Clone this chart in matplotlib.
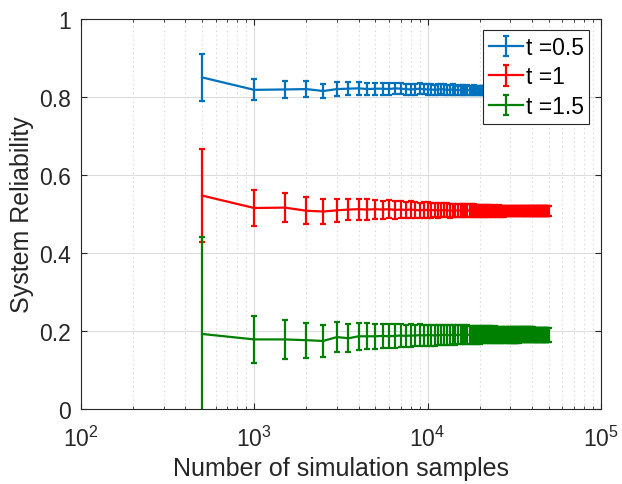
import numpy as np
import matplotlib
matplotlib.use("Agg")
import matplotlib.pyplot as plt
from matplotlib.ticker import LogLocator
from matplotlib.legend_handler import HandlerErrorbar
from matplotlib.container import ErrorbarContainer

plt.rcParams['font.family'] = ['Liberation Sans', 'DejaVu Sans']
plt.rcParams['mathtext.fontset'] = 'custom'
plt.rcParams['mathtext.rm'] = 'Liberation Sans'

# number of simulation samples (500, 1000, ..., 50000)
samples = np.arange(500, 50001, 500)

labels = ["t =0.5", "t =1", "t =1.5"]

rel_t05 = [
    0.850, 0.818, 0.819, 0.820, 0.815, 0.820, 0.821, 0.822, 0.820, 0.821,
    0.821, 0.820, 0.822, 0.821, 0.820, 0.819, 0.820, 0.821, 0.820, 0.819,
    0.819, 0.818, 0.819, 0.820, 0.819, 0.818, 0.818, 0.819, 0.818, 0.817,
    0.818, 0.818, 0.817, 0.818, 0.817, 0.817, 0.818, 0.817, 0.816, 0.817,
    0.817, 0.816, 0.817, 0.817, 0.816, 0.816, 0.817, 0.816, 0.816, 0.817,
    0.816, 0.816, 0.817, 0.816, 0.816, 0.816, 0.817, 0.816, 0.816, 0.816,
    0.816, 0.817, 0.816, 0.816, 0.816, 0.816, 0.816, 0.817, 0.816, 0.816,
    0.816, 0.816, 0.816, 0.816, 0.817, 0.816, 0.816, 0.816, 0.816, 0.816,
    0.816, 0.816, 0.816, 0.816, 0.816, 0.816, 0.816, 0.816, 0.816, 0.816,
    0.816, 0.816, 0.816, 0.816, 0.816, 0.816, 0.816, 0.816, 0.816, 0.816,
]
err_t05 = [
    0.060, 0.027, 0.022, 0.020, 0.018, 0.017, 0.016, 0.016, 0.015, 0.015,
    0.015, 0.015, 0.014, 0.014, 0.014, 0.014, 0.014, 0.014, 0.013, 0.013,
    0.013, 0.013, 0.013, 0.013, 0.013, 0.013, 0.013, 0.013, 0.013, 0.012,
    0.012, 0.012, 0.012, 0.012, 0.012, 0.012, 0.012, 0.012, 0.012, 0.012,
    0.012, 0.012, 0.012, 0.012, 0.012, 0.012, 0.012, 0.012, 0.012, 0.012,
    0.012, 0.012, 0.012, 0.011, 0.011, 0.011, 0.011, 0.011, 0.011, 0.011,
    0.011, 0.011, 0.011, 0.011, 0.011, 0.011, 0.011, 0.011, 0.011, 0.011,
    0.011, 0.011, 0.011, 0.011, 0.011, 0.011, 0.011, 0.011, 0.011, 0.011,
    0.011, 0.011, 0.011, 0.011, 0.011, 0.011, 0.011, 0.011, 0.011, 0.011,
    0.011, 0.011, 0.011, 0.011, 0.011, 0.011, 0.011, 0.011, 0.011, 0.011,
]

rel_t1 = [
    0.547, 0.515, 0.516, 0.508, 0.506, 0.509, 0.511, 0.512, 0.511, 0.512,
    0.511, 0.512, 0.510, 0.511, 0.510, 0.511, 0.510, 0.509, 0.510, 0.510,
    0.509, 0.510, 0.509, 0.509, 0.510, 0.509, 0.508, 0.509, 0.509, 0.508,
    0.509, 0.508, 0.508, 0.509, 0.508, 0.508, 0.508, 0.507, 0.508, 0.508,
    0.508, 0.507, 0.508, 0.508, 0.507, 0.508, 0.507, 0.507, 0.508, 0.507,
    0.507, 0.508, 0.507, 0.507, 0.507, 0.507, 0.508, 0.507, 0.507, 0.507,
    0.507, 0.507, 0.507, 0.507, 0.507, 0.507, 0.507, 0.507, 0.507, 0.507,
    0.507, 0.507, 0.507, 0.507, 0.507, 0.507, 0.507, 0.507, 0.507, 0.507,
    0.507, 0.507, 0.507, 0.507, 0.507, 0.507, 0.507, 0.507, 0.507, 0.507,
    0.507, 0.507, 0.507, 0.507, 0.507, 0.507, 0.507, 0.507, 0.507, 0.507,
]
err_t1 = [
    0.120, 0.045, 0.037, 0.035, 0.033, 0.030, 0.028, 0.027, 0.026, 0.024,
    0.023, 0.023, 0.022, 0.022, 0.021, 0.021, 0.021, 0.020, 0.020, 0.020,
    0.019, 0.019, 0.019, 0.018, 0.018, 0.018, 0.018, 0.017, 0.017, 0.017,
    0.017, 0.017, 0.016, 0.016, 0.016, 0.016, 0.016, 0.016, 0.015, 0.015,
    0.015, 0.015, 0.015, 0.015, 0.015, 0.014, 0.014, 0.014, 0.014, 0.014,
    0.014, 0.014, 0.014, 0.014, 0.014, 0.013, 0.013, 0.013, 0.013, 0.013,
    0.013, 0.013, 0.013, 0.013, 0.013, 0.013, 0.013, 0.013, 0.013, 0.013,
    0.012, 0.012, 0.012, 0.012, 0.012, 0.012, 0.012, 0.012, 0.012, 0.012,
    0.012, 0.012, 0.012, 0.012, 0.012, 0.012, 0.012, 0.012, 0.012, 0.012,
    0.012, 0.012, 0.012, 0.012, 0.012, 0.012, 0.012, 0.012, 0.012, 0.012,
]

rel_t15 = [
    0.192, 0.178, 0.178, 0.176, 0.174, 0.184, 0.181, 0.186, 0.186, 0.186,
    0.187, 0.186, 0.187, 0.188, 0.187, 0.188, 0.188, 0.189, 0.188, 0.189,
    0.189, 0.188, 0.189, 0.189, 0.190, 0.189, 0.189, 0.190, 0.189, 0.190,
    0.190, 0.189, 0.190, 0.190, 0.190, 0.189, 0.190, 0.190, 0.190, 0.190,
    0.190, 0.190, 0.190, 0.191, 0.190, 0.190, 0.190, 0.190, 0.191, 0.190,
    0.190, 0.190, 0.190, 0.190, 0.190, 0.190, 0.191, 0.190, 0.190, 0.190,
    0.190, 0.190, 0.190, 0.190, 0.190, 0.190, 0.190, 0.190, 0.190, 0.190,
    0.190, 0.190, 0.190, 0.190, 0.190, 0.190, 0.190, 0.190, 0.190, 0.190,
    0.190, 0.190, 0.190, 0.190, 0.190, 0.190, 0.190, 0.190, 0.190, 0.190,
    0.190, 0.190, 0.190, 0.190, 0.190, 0.190, 0.190, 0.190, 0.190, 0.190,
]
err_t15 = [
    0.248, 0.061, 0.050, 0.045, 0.042, 0.038, 0.036, 0.034, 0.033, 0.032,
    0.031, 0.031, 0.030, 0.030, 0.029, 0.029, 0.028, 0.028, 0.028, 0.027,
    0.027, 0.026, 0.026, 0.026, 0.026, 0.025, 0.025, 0.025, 0.025, 0.024,
    0.024, 0.024, 0.024, 0.024, 0.023, 0.023, 0.023, 0.023, 0.023, 0.023,
    0.022, 0.022, 0.022, 0.022, 0.022, 0.022, 0.022, 0.021, 0.021, 0.021,
    0.021, 0.021, 0.021, 0.021, 0.021, 0.020, 0.020, 0.020, 0.020, 0.020,
    0.020, 0.020, 0.020, 0.020, 0.020, 0.020, 0.020, 0.019, 0.019, 0.019,
    0.019, 0.019, 0.019, 0.019, 0.019, 0.019, 0.019, 0.019, 0.019, 0.019,
    0.019, 0.018, 0.018, 0.018, 0.018, 0.018, 0.018, 0.018, 0.018, 0.018,
    0.018, 0.018, 0.018, 0.018, 0.018, 0.018, 0.018, 0.018, 0.018, 0.018,
]

colors = ["#0072BD", "#FF0000", "#008000"]

fig = plt.figure(figsize=(6.22, 4.85), dpi=100)
ax = fig.add_axes([0.130, 0.155, 0.836, 0.804])

for y, e, c, lab in zip([rel_t05, rel_t1, rel_t15], [err_t05, err_t1, err_t15], colors, labels):
    ax.errorbar(samples, y, yerr=e, color=c, lw=1.6, elinewidth=1.6,
                capsize=2.3, capthick=1.6, label=lab)

ax.set_xscale('log')
ax.set_xlim(1e2, 1e5)
ax.set_ylim(0, 1)
ax.set_yticks([0, 0.2, 0.4, 0.6, 0.8, 1])
ax.set_yticklabels(["0", "0.2", "0.4", "0.6", "0.8", "1"])
ax.xaxis.set_major_locator(LogLocator(base=10, numticks=10))
ax.xaxis.set_minor_locator(LogLocator(base=10, subs=np.arange(2, 10), numticks=20))

ax.grid(True, which='major', color='#dcdcdc', lw=0.8, ls='-')
ax.grid(True, which='minor', axis='x', color='#d0d0d0', lw=0.8, ls=(0, (1, 3)))
ax.set_axisbelow(True)

dark = '#262626'
for s in ax.spines.values():
    s.set_color(dark)
    s.set_linewidth(0.8)
ax.tick_params(which='both', direction='in', top=True, right=True, colors=dark,
               labelsize=16.5, labelcolor=dark)
ax.tick_params(which='major', length=4.5, width=0.8)
ax.tick_params(which='minor', length=2.5, width=0.6)
ax.tick_params(axis='x', pad=12)
ax.tick_params(axis='y', pad=7)

ax.set_xlabel("Number of simulation samples", fontsize=18, color=dark, labelpad=4)
ax.set_ylabel("System Reliability", fontsize=18, color=dark, labelpad=4)

leg = ax.legend(loc='upper right', fontsize=16.5, frameon=True, fancybox=False,
                edgecolor=dark, framealpha=1, borderpad=0.25, handlelength=1.5,
                handletextpad=0.1, labelspacing=0.28, borderaxespad=0.5,
                handler_map={ErrorbarContainer: HandlerErrorbar(xerr_size=0.45)})
leg.get_frame().set_linewidth(0.8)

fig.savefig("out.png", dpi=100)
